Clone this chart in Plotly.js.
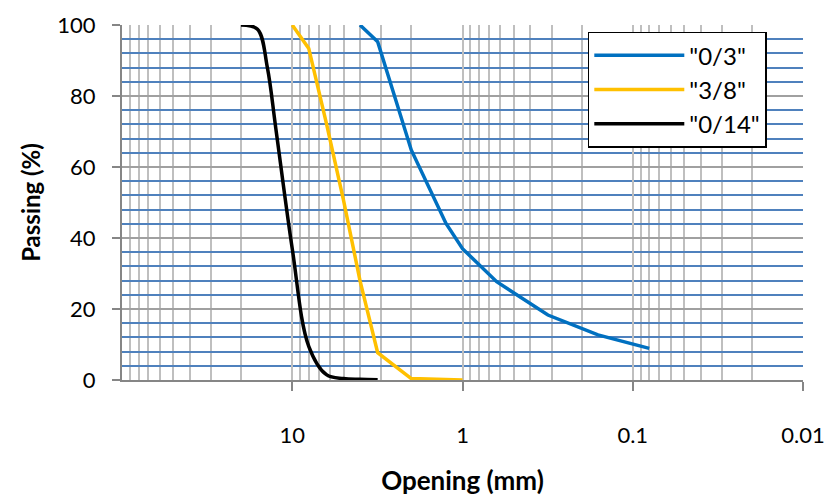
<!DOCTYPE html>
<html>
<head>
<meta charset="utf-8">
<script src="https://cdn.plot.ly/plotly-3.0.1.min.js"></script>
<style>html,body{margin:0;padding:0;background:#fff;}#chart{width:833px;height:497px;}</style>
</head>
<body>
<div id="chart"></div>
<script>
// Sieve openings (mm) and passing (%)
const sieve03 = [4, 3.15, 2, 1.25, 1, 0.63, 0.315, 0.16, 0.08];
const pass03 = [100, 95.3, 64.8, 44.1, 37, 27.7, 18.3, 12.7, 8.9];

const sieve38 = [10, 8, 6.3, 5, 4, 3.15, 2, 1];
const pass38 = [100, 93.4, 72.3, 50.7, 28, 7.7, 0.4, 0];

const sieve014 = [20, 16, 14, 12.5, 10, 8, 6.3, 5, 4, 3.15];
const pass014 = [100, 98.8, 88, 71, 37, 9.5, 1.5, 0.4, 0.2, 0.1];

const seriesNames = ['"0/3"', '"3/8"', '"0/14"'];
const xTickVals = [10, 1, 0.1, 0.01];
const xTickText = ['10', '1', '0.1', '0.01'];
const yTickVals = [0, 20, 40, 60, 80, 100];

const traces = [
  {x: sieve03, y: pass03, name: seriesNames[0], mode: 'lines', type: 'scatter',
   line: {color: '#0070C0', width: 3.5}},
  {x: sieve38, y: pass38, name: seriesNames[1], mode: 'lines', type: 'scatter',
   line: {color: '#FFC000', width: 3.5}},
  {x: sieve014, y: pass014, name: seriesNames[2], mode: 'lines', type: 'scatter',
   line: {color: '#000000', width: 3.5, shape: 'spline', smoothing: 1}}
];

const layout = {
  width: 833, height: 497,
  margin: {l: 122, r: 30, t: 25, b: 117},
  paper_bgcolor: '#ffffff', plot_bgcolor: '#ffffff',
  font: {family: 'Lato, "Open Sans", sans-serif', color: '#000000', size: 22},
  showlegend: true,
  legend: {
    x: 0.684, y: 0.981, xanchor: 'left', yanchor: 'top',
    bgcolor: '#ffffff', bordercolor: '#000000', borderwidth: 1.5,
    font: {size: 24, family: 'Lato, sans-serif', color: '#000000'},
    itemwidth: 90, tracegroupgap: 0
  },
  xaxis: {
    type: 'log', range: [2, -2], autorange: false,
    tickvals: xTickVals, ticktext: xTickText,
    ticks: 'outside', ticklen: 9, tickcolor: '#868686', tickwidth: 2,
    showline: true, linecolor: '#868686', linewidth: 2,
    showgrid: true, gridcolor: '#bfbfbf', gridwidth: 2,
    minor: {dtick: 'D1', showgrid: true, gridcolor: '#bfbfbf', gridwidth: 2, ticks: ''},
    tickfont: {size: 22},
    ticklabelstandoff: 26,
    automargin: false,
    zeroline: false,
    title: {text: '<b>Opening (mm)</b>', font: {size: 26}, standoff: 24}
  },
  yaxis: {
    range: [0, 100], autorange: false,
    tickvals: yTickVals,
    ticks: 'outside', ticklen: 8, tickcolor: '#868686', tickwidth: 2,
    showline: true, linecolor: '#868686', linewidth: 2,
    showgrid: true, gridcolor: '#a0a0a0', gridwidth: 2,
    minor: {tick0: 0, dtick: 4, showgrid: true, gridcolor: '#4F81BD', gridwidth: 2, ticks: ''},
    tickfont: {size: 22},
    ticklabelstandoff: 12,
    automargin: false,
    zeroline: false,
    title: {text: '<b>Passing (%)</b>', font: {size: 24}, standoff: 10}
  }
};

Plotly.newPlot('chart', traces, layout, {displayModeBar: false, staticPlot: true});
</script>
</body>
</html>
